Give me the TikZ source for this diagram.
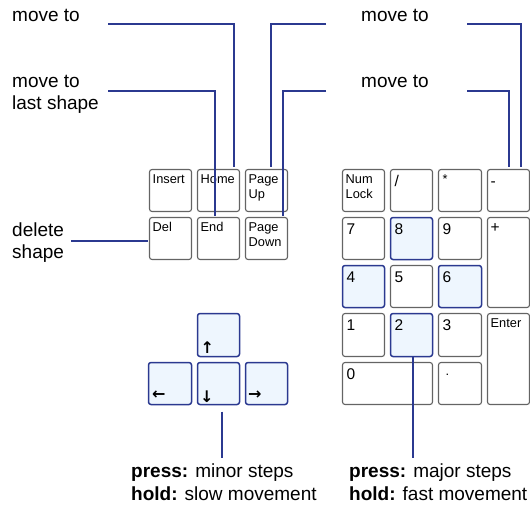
\documentclass[tikz,border=0pt]{standalone}
\usepackage{fontspec}
\setmainfont{Liberation Sans}
\newfontfamily\arrowfont{DejaVu Sans}
\definecolor{lineblue}{RGB}{43,57,144}
\definecolor{keygray}{RGB}{100,100,100}
\definecolor{hifill}{RGB}{238,246,254}
\newcommand{\mkkey}[6]{\node[#1, minimum width=#5pt, minimum height=#6pt] (#2) at ({#3+#5/2},{#4+#6/2}) {};}
\begin{document}
\begin{tikzpicture}[x=1pt,y=-1pt,
  keybox/.style={draw=keygray, line width=1.1pt, rounded corners=2.5pt, fill=white, inner sep=0pt, outer sep=0pt},
  hikey/.style={keybox, draw=lineblue, line width=1.5pt, fill=hifill},
  wordlbl/.style={font=\fontsize{12.8}{15}\selectfont, inner sep=0pt, anchor=base west, align=left},
  digitlbl/.style={font=\fontsize{15.5}{17}\selectfont, inner sep=0pt, anchor=base west},
  arrowlbl/.style={font=\fontsize{16}{18}\arrowfont\bfseries, inner sep=0pt, anchor=base west},
  conn/.style={draw=lineblue, line width=2pt},
  callout/.style={font=\fontsize{19}{22.5}\selectfont, inner sep=0pt, anchor=base west, align=left},
]
\useasboundingbox (0,0) rectangle (530,511);
% navigation cluster
\mkkey{keybox}{insert}{149.5}{169.5}{42}{42}
\mkkey{keybox}{home}{197.5}{169.5}{42}{42}
\mkkey{keybox}{pgup}{245.5}{169.5}{42}{42}
\mkkey{keybox}{del}{149.5}{217.5}{42}{42}
\mkkey{keybox}{end}{197.5}{217.5}{42}{42}
\mkkey{keybox}{pgdn}{245.5}{217.5}{42}{42}
\node[wordlbl] (insert-t) at ([xshift=3pt,yshift=-14pt]insert.north west) {Insert};
\node[wordlbl] (home-t) at ([xshift=3pt,yshift=-14pt]home.north west) {Home};
\node[wordlbl] (pgup-t) at ([xshift=3pt,yshift=-29pt]pgup.north west) {Page\\Up};
\node[wordlbl] (del-t) at ([xshift=3pt,yshift=-14pt]del.north west) {Del};
\node[wordlbl] (end-t) at ([xshift=3pt,yshift=-14pt]end.north west) {End};
\node[wordlbl] (pgdn-t) at ([xshift=3pt,yshift=-29pt]pgdn.north west) {Page\\Down};
% numeric keypad
\mkkey{keybox}{numlock}{342.5}{169.5}{42}{42}
\mkkey{keybox}{slash}{390.5}{169.5}{42}{42}
\mkkey{keybox}{star}{438.5}{169.5}{43}{42}
\mkkey{keybox}{minus}{487.5}{169.5}{42}{42}
\mkkey{keybox}{k7}{342.5}{217.5}{42}{42}
\mkkey{hikey}{k8}{390.5}{217.5}{42}{42}
\mkkey{keybox}{k9}{438.5}{217.5}{43}{42}
\mkkey{keybox}{plus}{487.5}{217.5}{42}{90}
\mkkey{hikey}{k4}{342.5}{265.5}{42}{42}
\mkkey{keybox}{k5}{390.5}{265.5}{42}{42}
\mkkey{hikey}{k6}{438.5}{265.5}{43}{42}
\mkkey{keybox}{k1}{342.5}{313.5}{42}{43}
\mkkey{hikey}{k2}{390.5}{313.5}{42}{43}
\mkkey{keybox}{k3}{438.5}{313.5}{43}{43}
\mkkey{keybox}{enter}{487.5}{313.5}{42}{91}
\mkkey{keybox}{k0}{342.5}{362.5}{90}{42}
\mkkey{keybox}{dot}{438.5}{362.5}{43}{42}
\node[wordlbl] (numlock-t) at ([xshift=3pt,yshift=-29pt]numlock.north west) {Num\\Lock};
\node[digitlbl] (slash-t) at ([xshift=4pt,yshift=-17pt]slash.north west) {/};
\node[wordlbl] (star-t) at ([xshift=4pt,yshift=-14pt]star.north west) {*};
\node[digitlbl] (minus-t) at ([xshift=3pt,yshift=-17pt]minus.north west) {-};
\node[digitlbl] (k7-t) at ([xshift=4pt,yshift=-17pt]k7.north west) {7};
\node[digitlbl] (k8-t) at ([xshift=4pt,yshift=-17pt]k8.north west) {8};
\node[digitlbl] (k9-t) at ([xshift=4pt,yshift=-17pt]k9.north west) {9};
\node[digitlbl] (plus-t) at ([xshift=3pt,yshift=-15pt]plus.north west) {+};
\node[digitlbl] (k4-t) at ([xshift=4pt,yshift=-17pt]k4.north west) {4};
\node[digitlbl] (k5-t) at ([xshift=4pt,yshift=-17pt]k5.north west) {5};
\node[digitlbl] (k6-t) at ([xshift=4pt,yshift=-17pt]k6.north west) {6};
\node[digitlbl] (k1-t) at ([xshift=4pt,yshift=-17pt]k1.north west) {1};
\node[digitlbl] (k2-t) at ([xshift=4pt,yshift=-17pt]k2.north west) {2};
\node[digitlbl] (k3-t) at ([xshift=4pt,yshift=-17pt]k3.north west) {3};
\node[wordlbl] (enter-t) at ([xshift=3pt,yshift=-14pt]enter.north west) {Enter};
\node[digitlbl] (k0-t) at ([xshift=4pt,yshift=-17pt]k0.north west) {0};
\node[wordlbl] (dot-t) at ([xshift=7pt,yshift=-13pt]dot.north west) {.};
% arrow keys
\mkkey{hikey}{up}{197.5}{313.5}{42}{43}
\mkkey{hikey}{left}{148.5}{362.5}{43}{42}
\mkkey{hikey}{down}{197.5}{362.5}{42}{42}
\mkkey{hikey}{right}{245.5}{362.5}{42}{42}
\node[arrowlbl] (up-t) at ([xshift=3pt,yshift=3.5pt]up.south west) {↑};
\node[arrowlbl] (left-t) at ([xshift=3.5pt,yshift=5.5pt]left.south west) {←};
\node[arrowlbl] (down-t) at ([xshift=2.5pt,yshift=2.5pt]down.south west) {↓};
\node[arrowlbl] (right-t) at ([xshift=2.5pt,yshift=5.5pt]right.south west) {→};
% callout texts
\node[callout] (mvA) at (12,21.5) {move to};
\node[callout] (mvB) at (12,109.5) {move to\\last shape};
\node[callout] (delt) at (12,258.5) {delete\\shape};
\node[callout] (mvC) at (361,21.5) {move to};
\node[callout] (mvD) at (361,87.5) {move to};
\node[callout] (prA) at (131,500) {\textbf{press:} minor steps\\\textbf{hold:} slow movement};
\node[callout] (prB) at (349,500) {\textbf{press:} major steps\\\textbf{hold:} fast movement};
% connector start points
\coordinate (hA) at (108,24);
\coordinate (hB) at (108,91);
\coordinate (pA) at (326,24);
\coordinate (pB) at (326,91);
\coordinate (nA) at (467,24);
\coordinate (nB) at (467,91);
\coordinate (dA) at (71,241);
\coordinate (aA) at (222,458);
\coordinate (bA) at (413,458);
% connectors
\draw[conn] (hA) -| ([xshift=15.5pt,yshift=3pt]home.north);
\draw[conn] (hB) -| ([xshift=-3.5pt,yshift=2pt]end.north);
\draw[conn] (pA) -| ([xshift=4.5pt,yshift=3pt]pgup.north);
\draw[conn] (pB) -| ([xshift=16.5pt,yshift=2pt]pgdn.north);
\draw[conn] (nA) -| ([xshift=12.5pt,yshift=3pt]minus.north);
\draw[conn] (nB) -| ([xshift=0.5pt,yshift=3pt]minus.north);
\draw[conn] (dA) -- ([xshift=-2pt,yshift=-2.5pt]del.west);
\draw[conn] ([xshift=3.5pt,yshift=-7pt]down.south) -- (aA);
\draw[conn] ([xshift=1.5pt]k2.south) -- (bA);
\end{tikzpicture}
\end{document}
